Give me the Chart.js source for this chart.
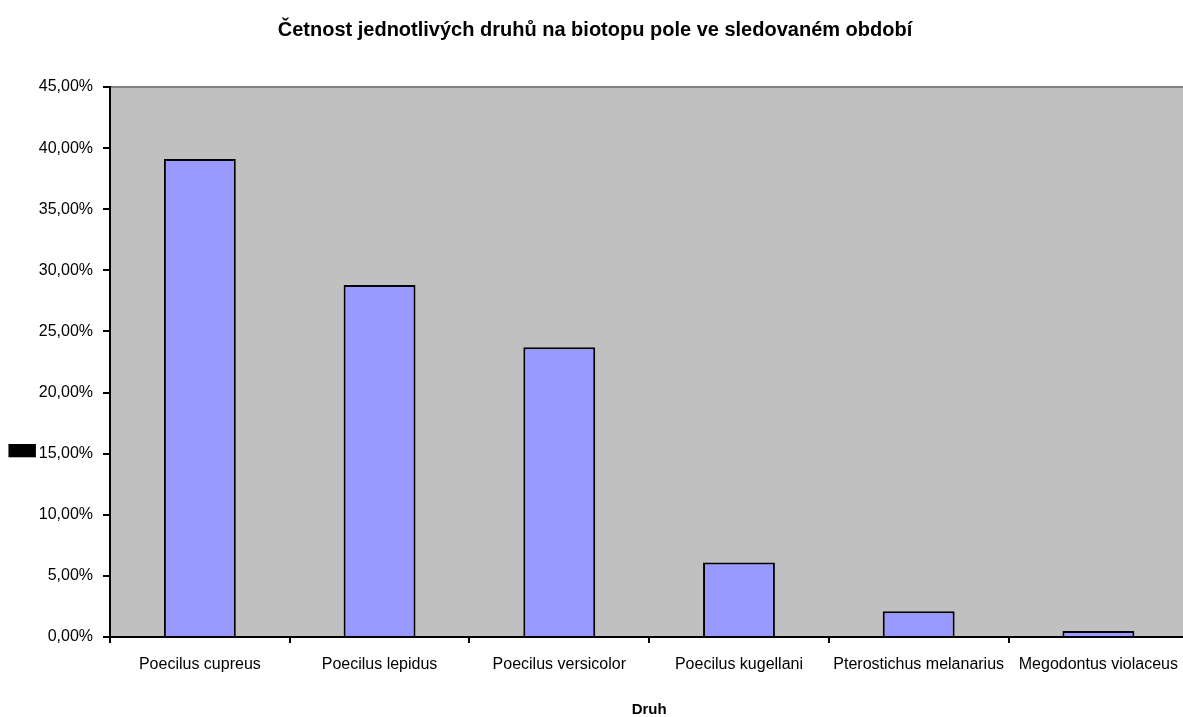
<!DOCTYPE html>
<html lang="cs">
<head>
<meta charset="utf-8">
<title>Četnost druhů</title>
<script src="https://cdn.jsdelivr.net/npm/chart.js@4"></script>
<style>
    html, body { margin: 0; padding: 0; background: #fff; overflow: hidden; }
    #graf { display: block; }
</style>
</head>
<body>
<canvas id="graf" width="1190" height="717"></canvas>
<script>
// Druhy a jejich podíl v odchytu (%)
const druhy = [
    'Poecilus cupreus',
    'Poecilus lepidus',
    'Poecilus versicolor',
    'Poecilus kugellani',
    'Pterostichus melanarius',
    'Megodontus violaceus'
];
const cetnost = [39.1, 28.8, 23.7, 6.1, 2.1, 0.5];

const nadpis = 'Četnost jednotlivých druhů na biotopu pole ve sledovaném období';
const popisX = 'Druh';
const popisY = '▬';

const pismo = "'Liberation Sans', Arial, sans-serif";

// Šedé pozadí grafu a horní šedá linka
const pozadi = {
    id: 'pozadi',
    beforeDraw(chart) {
        const { ctx, chartArea: a } = chart;
        ctx.save();
        ctx.fillStyle = '#c0c0c0';
        ctx.fillRect(a.left, a.top, a.right - a.left, a.bottom - a.top);
        ctx.strokeStyle = '#808080';
        ctx.lineWidth = 2;
        ctx.beginPath();
        ctx.moveTo(a.left, a.top);
        ctx.lineTo(a.right, a.top);
        ctx.stroke();
        ctx.restore();
    },
    // popisek osy y vedle značky 15 %
    afterDraw(chart) {
        const { ctx } = chart;
        const y = chart.scales.y.getPixelForValue(15);
        ctx.save();
        ctx.fillStyle = '#000';
        ctx.font = 'bold 36px DejaVu Sans';
        ctx.textAlign = 'center';
        ctx.textBaseline = 'middle';
        ctx.fillText(popisY, 22, y - 3);
        ctx.restore();
    }
};

new Chart(document.getElementById('graf'), {
    type: 'bar',
    data: {
        labels: druhy,
        datasets: [{
            data: cetnost,
            backgroundColor: '#9999ff',
            borderColor: '#000',
            borderWidth: 2,
            categoryPercentage: 1,
            barPercentage: 0.4
        }]
    },
    options: {
        responsive: false,
        animation: false,
        layout: { padding: 0 },
        plugins: {
            legend: { display: false },
            tooltip: { enabled: false },
            title: {
                display: true,
                text: nadpis,
                color: '#000',
                font: { family: pismo, size: 20, weight: 'bold' },
                padding: { top: 18, bottom: 45 }
            }
        },
        scales: {
            x: {
                afterFit(scale) { scale.height = 80; },
                grid: {
                    drawOnChartArea: false,
                    color: '#000',
                    lineWidth: 2,
                    tickLength: 6
                },
                border: { color: '#000', width: 2 },
                ticks: {
                    color: '#000',
                    font: { family: pismo, size: 16 },
                    padding: 12,
                    maxRotation: 0,
                    autoSkip: false
                },
                title: {
                    display: true,
                    text: popisX,
                    color: '#000',
                    font: { family: pismo, size: 15, weight: 'bold', lineHeight: 1 },
                    padding: { top: 0, bottom: 0 }
                }
            },
            y: {
                min: 0,
                max: 45,
                afterFit(scale) { scale.width = 110; },
                grid: {
                    drawOnChartArea: false,
                    color: '#000',
                    lineWidth: 2,
                    tickLength: 7
                },
                border: { color: '#000', width: 2 },
                ticks: {
                    stepSize: 5,
                    color: '#000',
                    font: { family: pismo, size: 16 },
                    padding: 10,
                    callback: v => v.toFixed(2).replace('.', ',') + '%'
                }
            }
        }
    },
    plugins: [pozadi]
});
</script>
</body>
</html>
